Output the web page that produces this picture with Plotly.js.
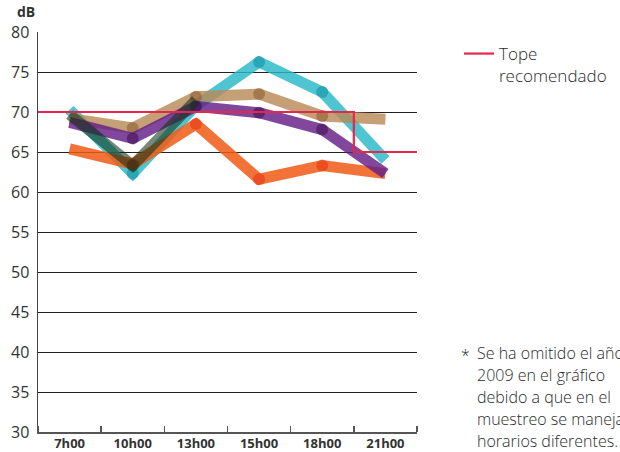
<!DOCTYPE html>
<html>
<head>
<meta charset="utf-8">
<script src="https://cdn.plot.ly/plotly-3.0.1.min.js"></script>
<style>
  html, body { margin: 0; padding: 0; background: #fff; }
  #chart { width: 620px; height: 452px; }
</style>
</head>
<body>
<div id="chart"></div>
<script>
// ---- Data ----
const horas = ['7h00', '10h00', '13h00', '15h00', '18h00', '21h00'];
const serieCian    = [70.3, 62.3, 70.8, 76.25, 72.5, 64.0];
const serieCafe    = [69.2, 68.0, 71.9, 72.25, 69.5, 69.1];
const serieNaranja = [65.4, 63.5, 68.5, 61.6, 63.3, 62.3];
const serieMorada  = [68.7, 66.7, 70.7, 69.9, 67.8, 62.3];
const serieOscura  = [69.7, 63.3, 71.5, null, null, null];
const tope         = [70, 70, 70, 70, 70, 65];
const yTicks       = [30, 35, 40, 45, 50, 55, 60, 65, 70, 75, 80];
const notaLineas   = ['Se ha omitido el año', '2009 en el gráfico', 'debido a que en el',
                      'muestreo se manejaron', 'horarios diferentes.'];

// ---- Helpers ----
const idx = horas.map((_, i) => i);
function interiorSizes(arr, s) {
  const valid = arr.map((v, i) => v == null ? -1 : i).filter(i => i >= 0);
  const first = valid[0], last = valid[valid.length - 1];
  return arr.map((v, i) => (v != null && i > first && i < last) ? s : 0);
}
function serie(vals, lineCol, dotCol) {
  return {
    type: 'scatter', mode: 'lines+markers', x: idx, y: vals,
    line: { color: lineCol, width: 11 },
    marker: { color: dotCol, size: interiorSizes(vals, 12), line: { width: 0 } },
    showlegend: false, hoverinfo: 'skip', connectgaps: false
  };
}
// step line built from category boundaries
const topeX = [], topeY = [];
tope.forEach((v, i) => { topeX.push(i - 0.5, i + 0.5); topeY.push(v, v); });

const traces = [
  serie(serieCian,    'rgba(40,184,199,0.82)',  'rgba(10,140,160,0.75)'),
  serie(serieCafe,    'rgba(184,138,88,0.82)',  'rgba(120,70,25,0.6)'),
  serie(serieNaranja, 'rgba(240,90,20,0.85)',   'rgba(228,40,10,0.7)'),
  serie(serieMorada,  'rgba(100,30,135,0.82)',  'rgba(50,0,60,0.65)'),
  serie(serieOscura,  'rgba(20,50,20,0.58)',    'rgba(15,35,10,0.45)'),
  {
    type: 'scatter', mode: 'lines', x: topeX, y: topeY,
    line: { color: '#e8254a', width: 2.2 },
    name: 'Tope<br>recomendado', hoverinfo: 'skip', showlegend: true
  }
];

const L = 38, R = 417, T = 32, B = 432;
const px = x => (x - L) / (R - L);
const py = y => (B - y) / (B - T);

const FONT = '"Open Sans", "Noto Sans", sans-serif';

const notaAnn = notaLineas.map((t, i) => ({
  xref: 'paper', yref: 'paper', x: px(475), y: py(353 + i * 22), text: t,
  showarrow: false, xanchor: 'left', yanchor: 'middle', align: 'left',
  font: { size: 16, color: '#2a2a2a', family: FONT, weight: 300 }
}));

const layout = {
  width: 620, height: 452,
  margin: { l: L, r: 620 - R, t: T, b: 452 - B, pad: 0 },
  paper_bgcolor: '#fff', plot_bgcolor: '#fff',
  font: { family: FONT, color: '#333' },
  xaxis: {
    range: [-0.5, horas.length - 0.5],
    tickvals: idx, ticktext: horas,
    tickfont: { size: 13, color: '#333', family: FONT, weight: 'bold' },
    ticks: '', showgrid: false, zeroline: false,
    showline: true, linecolor: '#555', linewidth: 2,
    ticklabelstandoff: -2,
    minor: { tick0: 0.5, dtick: 1, ticks: 'inside', ticklen: 6, tickcolor: '#555', tickwidth: 1.5, showgrid: false },
    fixedrange: true
  },
  yaxis: {
    range: [30, 80], tickvals: yTicks,
    tickfont: { size: 16, color: '#333', family: FONT },
    ticks: '', showgrid: true, gridcolor: '#222', gridwidth: 1,
    zeroline: false, showline: true, linecolor: '#444', linewidth: 1.5,
    ticklabelstandoff: 4, fixedrange: true
  },
  showlegend: true,
  legend: {
    xref: 'container', yref: 'container',
    x: 459 / 620, y: 1 - 36 / 452, xanchor: 'left', yanchor: 'top',
    font: { size: 17, color: '#2a2a2a', family: FONT, weight: 300 },
    valign: 'top', bgcolor: 'rgba(0,0,0,0)', tracegroupgap: 0, itemwidth: 30
  },
  annotations: [
    { xref: 'paper', yref: 'paper', x: px(26), y: py(12), text: '<b>dB</b>',
      showarrow: false, xanchor: 'center', yanchor: 'middle',
      font: { size: 14, color: '#333', family: FONT } },
    { xref: 'paper', yref: 'paper', x: px(459), y: py(355), text: '*',
      showarrow: false, xanchor: 'left', yanchor: 'middle',
      font: { size: 16, color: '#2a2a2a', family: FONT, weight: 300 } }
  ].concat(notaAnn)
};

Plotly.newPlot('chart', traces, layout, { displayModeBar: false, staticPlot: true });
</script>
</body>
</html>
